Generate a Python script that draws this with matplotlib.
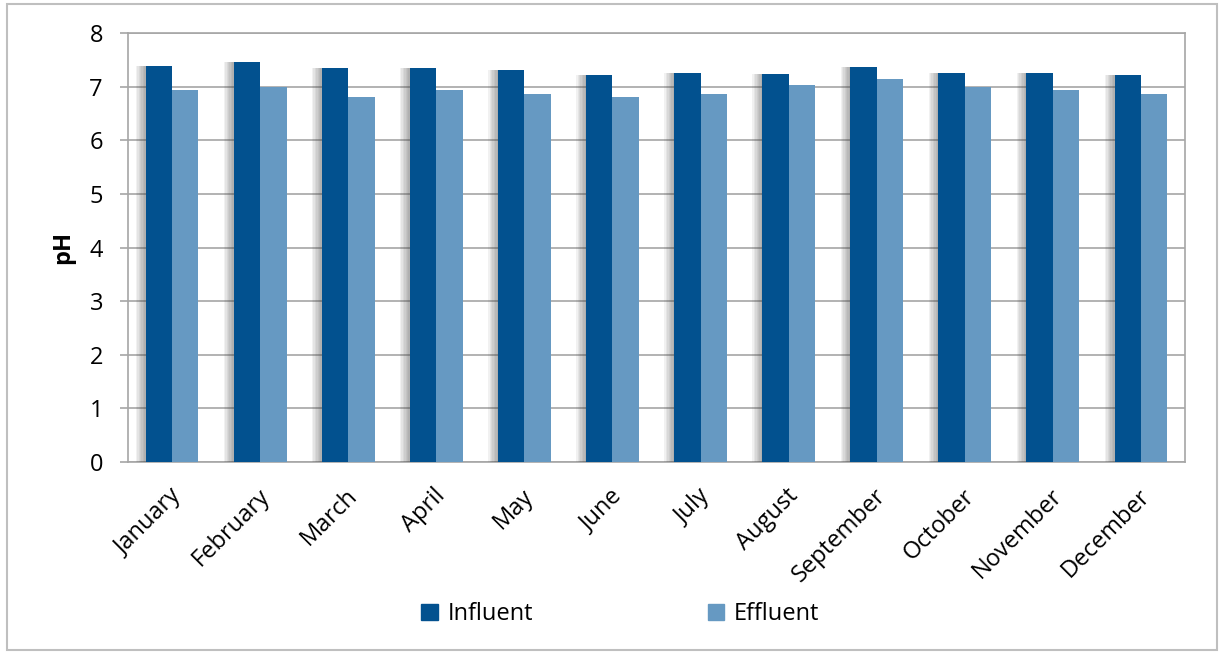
import numpy as np
import matplotlib
matplotlib.use("Agg")
import matplotlib.pyplot as plt
import matplotlib.patheffects as pe
from matplotlib.patches import Rectangle, Patch

plt.rcParams['font.family'] = ['Open Sans', 'DejaVu Sans']

# monthly pH values
months = ['January', 'February', 'March', 'April', 'May', 'June',
          'July', 'August', 'September', 'October', 'November', 'December']
influent = [7.39, 7.46, 7.34, 7.34, 7.31, 7.22, 7.26, 7.23, 7.37, 7.26, 7.26, 7.22]
effluent = [6.93, 6.99, 6.80, 6.94, 6.87, 6.81, 6.86, 7.04, 7.14, 7.00, 6.93, 6.87]
yticks = [0, 1, 2, 3, 4, 5, 6, 7, 8]

c_in = '#02518F'
c_ef = '#6699C2'
grid_c = '#A6A6A6'
fs = 17

fig = plt.figure(figsize=(12.21, 6.54), dpi=100)
ax = fig.add_axes([0.1048, 0.2936, 0.8657, 0.6559])

x = np.arange(len(months))
w = 0.3
# soft shadow on the left side of the bars
shadow = [pe.SimplePatchShadow(offset=(-k, 0), shadow_rgbFace='#404040', alpha=0.07)
          for k in range(1, 8)] + [pe.Normal()]
b1 = ax.bar(x - w / 2, influent, w, color=c_in, zorder=3)
b2 = ax.bar(x + w / 2, effluent, w, color=c_ef, zorder=3)
for b in b1:
    b.set_path_effects(shadow)

ax.set_xlim(-0.5, len(months) - 0.5)
ax.set_ylim(0, 8)
ax.set_yticks(yticks)
ax.set_yticklabels([str(t) for t in yticks], fontsize=fs)
ax.yaxis.grid(True, color=grid_c, linewidth=1.2, zorder=0)
ax.set_axisbelow(True)
ax.tick_params(axis='y', length=6, color=grid_c, width=1.2, pad=12)
ax.tick_params(axis='x', length=0, pad=16)
ax.set_xticks(x - 0.03)
ax.set_xticklabels(months, rotation=45, ha='right', rotation_mode='anchor', fontsize=fs)
ax.set_ylabel('pH', fontsize=fs, fontweight='bold', labelpad=10)
for s in ax.spines.values():
    s.set_color(grid_c)
    s.set_linewidth(1.2)

handles = [Patch(color=c_in), Patch(color=c_ef)]
fig.legend(handles=handles, labels=['Influent', 'Effluent'], loc='center',
           bbox_to_anchor=(0.508, 0.061), ncol=2, frameon=False, fontsize=fs,
           handlelength=0.68, handleheight=0.68, handletextpad=0.42, columnspacing=7.4)

# outer chart border
fig.patches.append(Rectangle((0.006, 0.006), 0.991, 0.988, transform=fig.transFigure,
                             fill=False, edgecolor='#BFBFBF', linewidth=1.5))

fig.savefig('out.png', dpi=100)
